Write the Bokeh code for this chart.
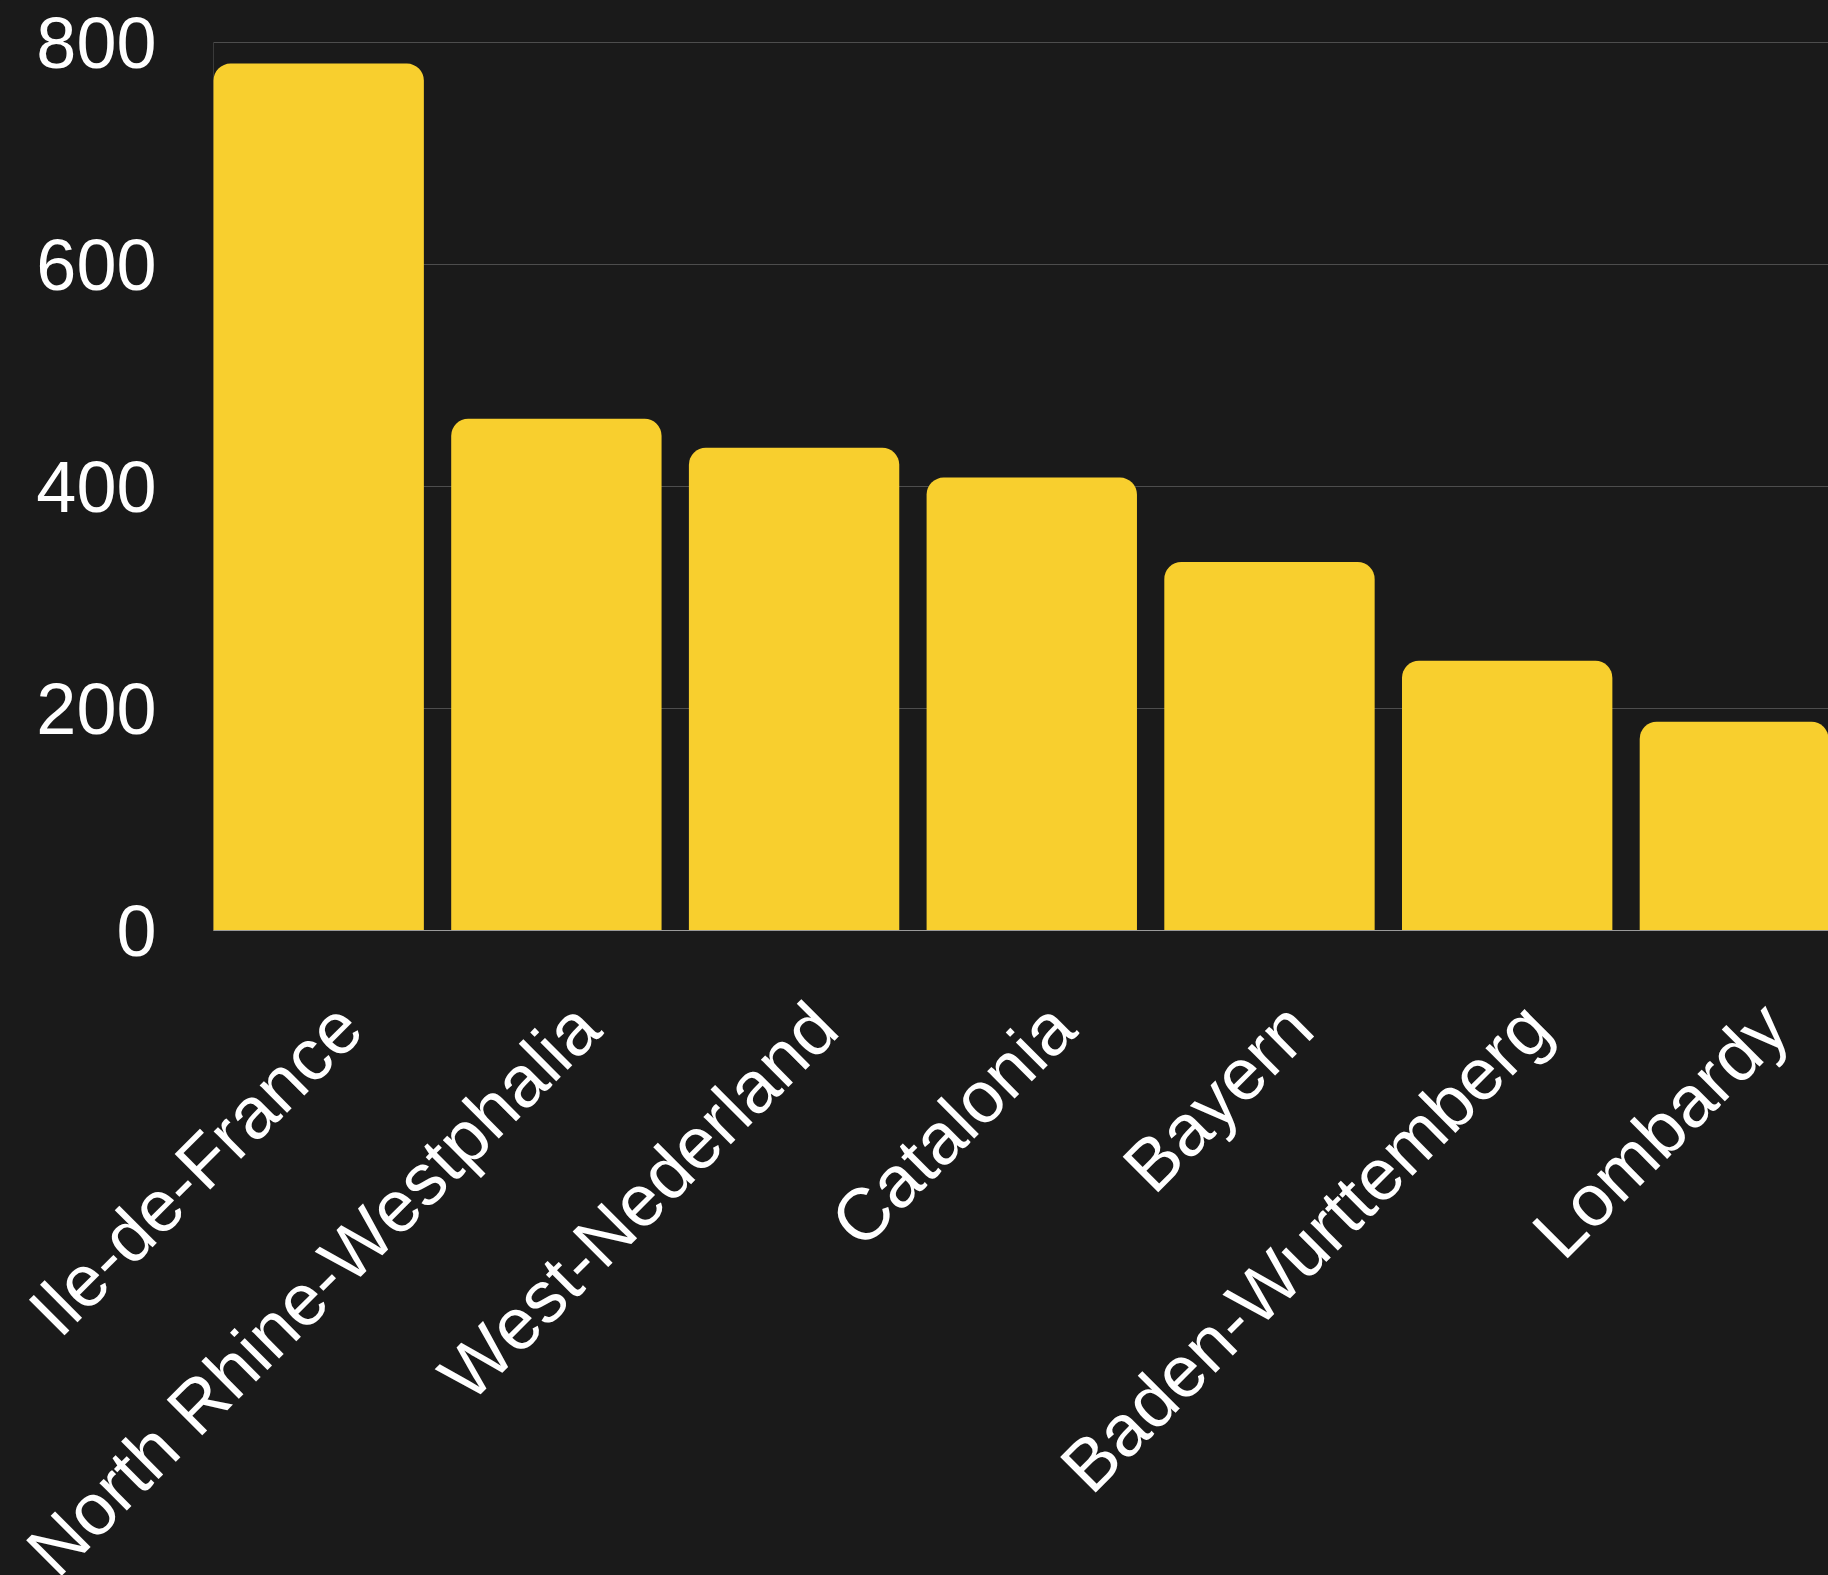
import math
from bokeh.plotting import figure
from bokeh.models import Range1d, ColumnDataSource
from bokeh.core.properties import value
from bokeh.embed import file_html
from bokeh.resources import INLINE

regions = ["Ile-de-France", "North Rhine-Westphalia", "West-Nederland",
           "Catalonia", "Bayern", "Baden-Wurttemberg", "Lombardy"]
values = [781, 461, 435, 408, 332, 243, 188]
y_ticks = [0, 200, 400, 600, 800]
y_tick_labels = ["0", "200", "400", "600", "800"]

BG = "#1a1a1a"
BAR = "#f8cf2e"
GRID = "#4d4d4d"
FONT = "Liberation Sans"

W, H = 1828, 1575
LEFT = 213                # pixel column where the bars start
BASE_Y = 930              # pixel row of value 0
px_per_y = 888 / 800      # 0 -> row 930, 800 -> row 42

bar_w = 0.885
px_per_x = 237.7          # pixels per category step
x0 = -bar_w / 2           # left edge of the first bar
X_START = x0 - LEFT / px_per_x
X_END = x0 + (W - LEFT) / px_per_x
Y_START = -(H - BASE_Y) / px_per_y
Y_END = BASE_Y / px_per_y

xs = list(range(len(regions)))
src = ColumnDataSource(dict(x=xs, top=values, name=regions))

# the frame fills the whole canvas; axes are drawn by hand so that the
# rotated category labels can run to the page edges as in the original
p = figure(width=W, height=H, output_backend="svg", toolbar_location=None,
           x_range=Range1d(X_START, X_END), y_range=Range1d(Y_START, Y_END),
           min_border_left=0, min_border_top=0, min_border_bottom=0, min_border_right=0)
p.background_fill_color = BG
p.border_fill_color = BG
p.outline_line_color = None
p.xaxis.visible = False
p.yaxis.visible = False
p.xgrid.visible = False
p.ygrid.visible = False

# horizontal grid lines at the y ticks
p.segment(x0=[x0] * len(y_ticks), y0=y_ticks, x1=[X_END] * len(y_ticks), y1=y_ticks,
          line_color=GRID, line_width=1)
# faint value-axis line
p.segment(x0=[x0], y0=[0], x1=[x0], y1=[max(y_ticks)], line_color="#3a3a3a", line_width=1)

p.vbar(x="x", top="top", bottom=0, width=bar_w, source=src, fill_color=BAR,
       line_color=None, border_radius=(17, 17, 0, 0))

# zero baseline
p.segment(x0=[x0], y0=[0], x1=[X_END], y1=[0], line_color="#9a9a9a", line_width=1)

# y tick labels
ytl = ColumnDataSource(dict(x=[x0 - 57 / px_per_x] * len(y_ticks), y=y_ticks, text=y_tick_labels))
p.text(x="x", y="y", text="text", source=ytl, text_align="right", text_baseline="middle",
       text_font=value(FONT), text_font_size="72px", text_color="#ffffff")

# rotated category labels under the baseline
lab_dx = 30 / px_per_x
lab_dy = -84.5 / px_per_y
lab_src = ColumnDataSource(dict(x=[x + lab_dx for x in xs], y=[lab_dy] * len(xs), text=regions))
p.text(x="x", y="y", text="text", source=lab_src, angle=math.pi / 4,
       text_align="right", text_baseline="middle", text_font=value(FONT),
       text_font_size="73px", text_color="#ffffff")

html = file_html(p, INLINE)
html = html.replace("<head>", "<head><style>html,body{margin:0;padding:0;background:#1a1a1a;overflow:hidden;}</style>", 1)
open("out.html", "w").write(html)
